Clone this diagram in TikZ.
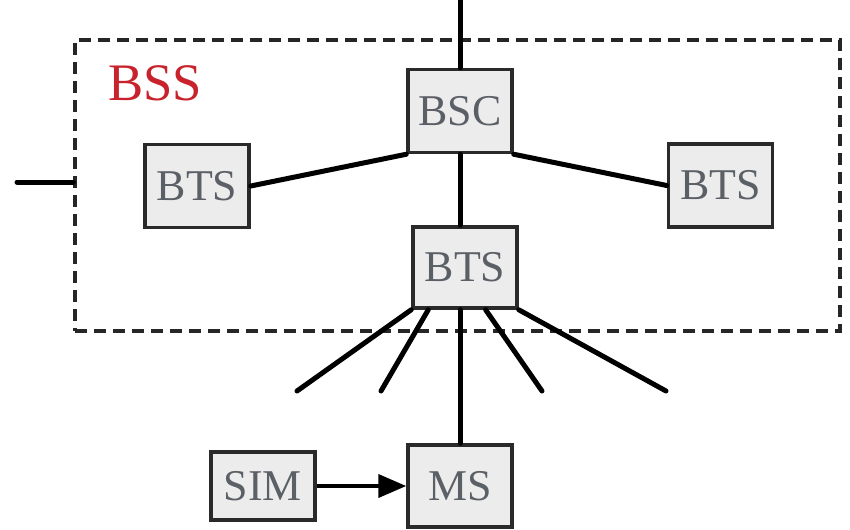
\documentclass[tikz,border=0pt]{standalone}
\usepackage{fontspec}
\setmainfont{Liberation Serif}
\usetikzlibrary{arrows.meta}

\definecolor{unitfill}{HTML}{ECECEC}
\definecolor{unitedge}{HTML}{2A2A2A}
\definecolor{unittext}{HTML}{5B5F66}
\definecolor{bssred}{HTML}{C8232C}

\begin{document}
\begin{tikzpicture}[x=0.02cm, y=-0.02cm,
  unit/.style={draw=unitedge, fill=unitfill, line width=0.07cm, text=unittext,
    font=\fontsize{25}{25}\selectfont, inner sep=0pt,
    minimum width=2.08cm, minimum height=1.66cm},
  link/.style={line width=0.1cm, line cap=round},
  frame/.style={draw=black!85, line width=0.07cm, dash pattern=on 0.24cm off 0.14cm,
    minimum width=15.3cm, minimum height=5.82cm, inner sep=0pt}]
  \useasboundingbox (0,0) rectangle (850,529);

  % base station subsystem frame
  \node[frame] (bss) at (457.5,185.5) {};
  \node[anchor=base west, text=bssred, font=\fontsize{30}{30}\selectfont] (bsslabel) at (102,100) {BSS};

  % units
  \node[unit] (bsc) at (460,111) {BSC};
  \node[unit] (btsleft) at (197,186) {BTS};
  \node[unit] (btsright) at (720.5,185.5) {BTS};
  \node[unit, minimum height=1.62cm] (btsmid) at (465,267.5) {BTS};
  \node[unit, minimum height=1.64cm] (ms) at (460,486) {MS};
  \node[unit, minimum height=1.36cm] (sim) at (263,486) {SIM};

  % outside connections
  \coordinate (up) at (460,0);
  \coordinate (out) at (17,182);
  \draw[link] (up) -- (bsc.north);
  \draw[link] (out) -- (out -| bss.west);

  % BSC to the BTS units
  \draw[link] (btsleft.east) -- (bsc.south west);
  \draw[link] (btsright.west) -- (bsc.south east);
  \draw[link] (bsc.south) -- (bsc.south |- btsmid.north);

  % radio links
  \coordinate (r1) at (297,391);
  \coordinate (r2) at (381,391);
  \coordinate (r3) at (542,391);
  \coordinate (r4) at (666,391);
  \draw[link] (btsmid.south west) -- (r1);
  \draw[link] (btsmid.229) -- (r2);
  \draw[link] (btsmid.296) -- (r3);
  \draw[link] (btsmid.south east) -- (r4);
  \draw[link] (btsmid.south -| ms.north) -- (ms.north);

  \draw[line width=0.08cm, -{Triangle[length=0.56cm, width=0.46cm]}] (sim) -- (ms);
\end{tikzpicture}
\end{document}
